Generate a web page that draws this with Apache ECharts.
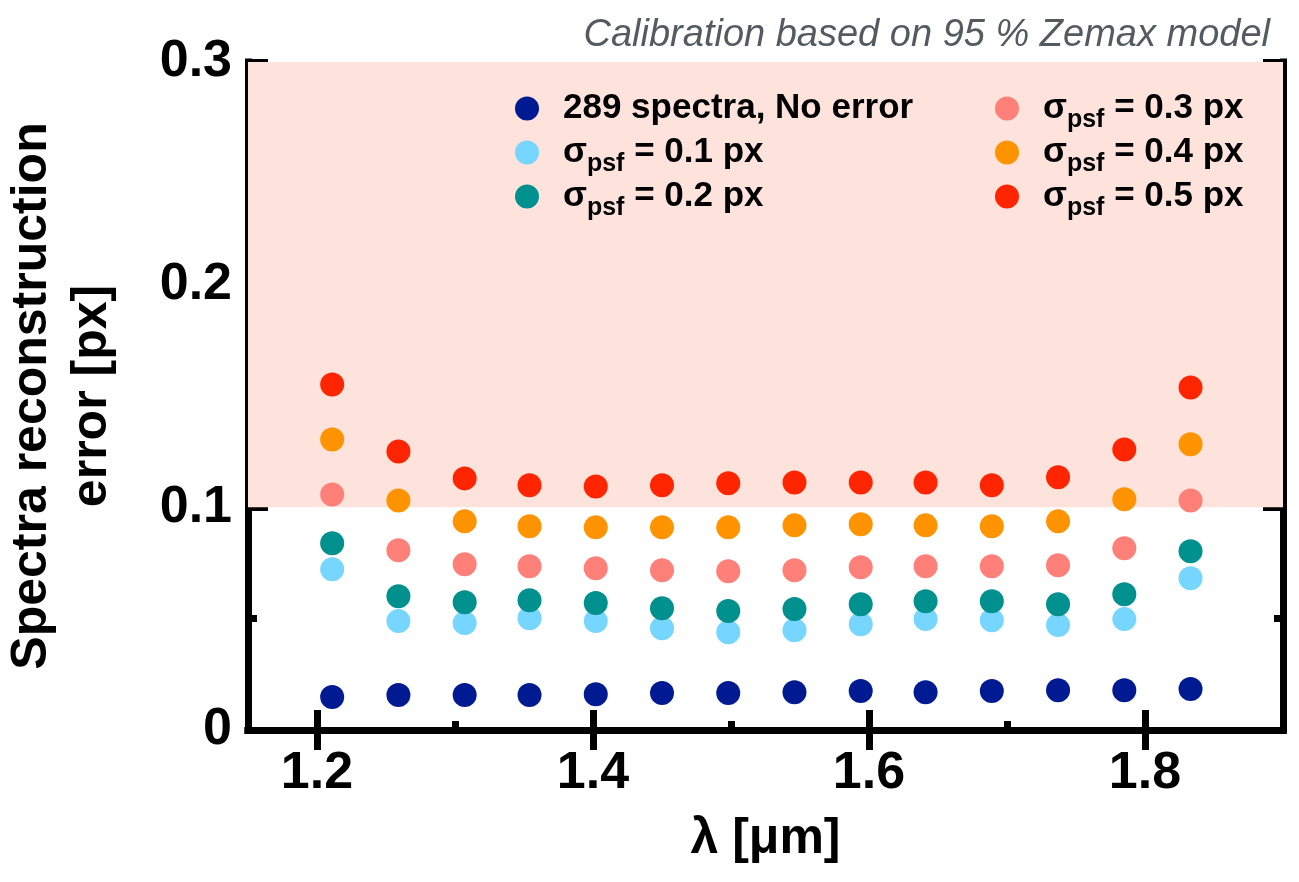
<!DOCTYPE html>
<html>
<head>
<meta charset="utf-8">
<script src="https://cdn.jsdelivr.net/npm/echarts@6/dist/echarts.min.js"></script>
<style>
  html, body { margin: 0; padding: 0; background: #fff; }
  #chart { width: 1299px; height: 882px; }
</style>
</head>
<body>
<div id="chart"></div>
<script>
// wavelengths [um]
var lambda = [1.211, 1.259, 1.307, 1.354, 1.402, 1.450, 1.498, 1.546, 1.594, 1.641, 1.689, 1.737, 1.785, 1.833];

// reconstruction error [px]
var noError = [0.0148, 0.0157, 0.0157, 0.0157, 0.0161, 0.0166, 0.0166, 0.0170, 0.0175, 0.0170, 0.0175, 0.0179, 0.0179, 0.0184];
var psf01 = [0.0722, 0.0489, 0.0480, 0.0502, 0.0489, 0.0457, 0.0439, 0.0448, 0.0475, 0.0498, 0.0493, 0.0471, 0.0498, 0.0682];
var psf02 = [0.0839, 0.0601, 0.0574, 0.0583, 0.0570, 0.0547, 0.0534, 0.0543, 0.0565, 0.0578, 0.0578, 0.0565, 0.0610, 0.0803];
var psf03 = [0.1058, 0.0807, 0.0744, 0.0735, 0.0726, 0.0717, 0.0713, 0.0717, 0.0731, 0.0735, 0.0735, 0.0740, 0.0816, 0.1031];
var psf04 = [0.1305, 0.1031, 0.0937, 0.0915, 0.0910, 0.0910, 0.0910, 0.0919, 0.0924, 0.0919, 0.0915, 0.0937, 0.1036, 0.1283];
var psf05 = [0.1552, 0.1251, 0.1130, 0.1099, 0.1094, 0.1099, 0.1108, 0.1112, 0.1112, 0.1112, 0.1099, 0.1135, 0.1260, 0.1538];

var seriesNames = ['289 spectra, No error', 'σpsf = 0.1 px', 'σpsf = 0.2 px', 'σpsf = 0.3 px', 'σpsf = 0.4 px', 'σpsf = 0.5 px'];
var seriesColors = ['#001a92', '#76d6ff', '#00918e', '#ff7f79', '#ff9300', '#ff2500'];
var seriesValues = [noError, psf01, psf02, psf03, psf04, psf05];

var majorX = [1.2, 1.4, 1.6, 1.8];
var minorX = [1.3, 1.5, 1.7];

var FONT = 'Liberation Sans';

function pairs(ys) {
    return lambda.map(function (x, i) { return [x, ys[i]]; });
}

var series = seriesNames.map(function (name, i) {
    return {
        name: name,
        type: 'scatter',
        z: 3,
        symbol: 'circle',
        symbolSize: 24,
        itemStyle: { color: seriesColors[i], opacity: 1 },
        data: pairs(seriesValues[i])
    };
});

// shaded band above 0.1 px
series.unshift({
    name: 'band',
    type: 'scatter',
    z: 1,
    data: [],
    markArea: {
        silent: true,
        itemStyle: { color: '#fde3dc' },
        data: [[{ xAxis: 1.15, yAxis: 0.1 }, { xAxis: 1.9, yAxis: 0.3 }]]
    }
});

function legendLabel(name) {
    if (name.indexOf('σpsf') === 0) {
        return '{a0|σ}{sub|psf}{a|' + name.slice(4) + '}';
    }
    return '{a0|' + name + '}';
}

var legendText = {
    color: '#000',
    rich: {
        a0: { fontFamily: FONT, fontWeight: 'bold', fontSize: 35, lineHeight: 34, padding: [7, 0, 7, 19], color: '#000' },
        a: { fontFamily: FONT, fontWeight: 'bold', fontSize: 35, lineHeight: 34, padding: [7, 0, 7, 0], color: '#000' },
        sub: { fontFamily: FONT, fontWeight: 'bold', fontSize: 25, lineHeight: 25, padding: [23, 0, 0, 0], color: '#000' }
    }
};

function legendCol(names, left) {
    return {
        data: names,
        orient: 'vertical',
        left: left,
        top: 84,
        padding: 0,
        icon: 'circle',
        itemWidth: 24,
        itemHeight: 24,
        itemGap: -5,
        selectedMode: false,
        formatter: legendLabel,
        textStyle: legendText
    };
}

var frameLine = { show: true, lineStyle: { color: '#000', width: 7, cap: 'square' } };

function xAxisDef(pos, ticks, len, withLabels) {
    return {
        type: 'value',
        position: pos,
        min: 1.15,
        max: 1.9,
        axisLine: len === 20 ? frameLine : { show: false },
        splitLine: { show: false },
        axisTick: {
            show: true, inside: true, length: len, customValues: ticks,
            lineStyle: { color: '#000', width: 7 }
        },
        axisLabel: withLabels ? {
            show: true, customValues: ticks, margin: 18,
            fontFamily: FONT, fontWeight: 'bold', fontSize: 52, color: '#000'
        } : { show: false },
        name: withLabels ? 'λ [μm]' : '',
        nameLocation: 'middle',
        nameGap: 84,
        nameTextStyle: { fontFamily: FONT, fontWeight: 'bold', fontSize: 50, color: '#000' }
    };
}

function yAxisDef(pos, withLabels) {
    return {
        type: 'value',
        position: pos,
        min: 0,
        max: 0.3,
        interval: 0.1,
        axisLine: frameLine,
        splitLine: { show: false },
        axisTick: { show: true, inside: true, length: 20, lineStyle: { color: '#000', width: 7 } },
        minorTick: { show: true, splitNumber: 2, length: 9, lineStyle: { color: '#000', width: 7 } },
        minorSplitLine: { show: false },
        axisLabel: withLabels ? {
            show: true, margin: 16,
            fontFamily: FONT, fontWeight: 'bold', fontSize: 52, color: '#000'
        } : { show: false },
        name: withLabels ? 'Spectra reconstruction\nerror [px]' : '',
        nameLocation: 'middle',
        nameRotate: 90,
        nameGap: 126,
        nameTextStyle: { fontFamily: FONT, fontWeight: 'bold', fontSize: 50, lineHeight: 60, color: '#000' }
    };
}

var option = {
    animation: false,
    backgroundColor: '#fff',
    title: {
        text: 'Calibration based on 95 % Zemax model',
        right: 24,
        top: 11,
        textStyle: { fontFamily: FONT, fontStyle: 'italic', fontWeight: 'normal', fontSize: 38, color: '#555a60' }
    },
    grid: { left: 248, right: 16, top: 62, bottom: 152, containLabel: false, outerBoundsMode: 'none' },
    legend: [
        legendCol(seriesNames.slice(0, 3), 515),
        legendCol(seriesNames.slice(3), 995)
    ],
    xAxis: [
        xAxisDef('bottom', majorX, 20, true),
        xAxisDef('top', majorX, 20, false),
        xAxisDef('bottom', minorX, 9, false),
        xAxisDef('top', minorX, 9, false)
    ],
    yAxis: [
        yAxisDef('left', true),
        yAxisDef('right', false)
    ],
    series: series
};

var myChart = echarts.init(document.getElementById('chart'), null, { renderer: 'canvas' });
myChart.setOption(option);
</script>
</body>
</html>
